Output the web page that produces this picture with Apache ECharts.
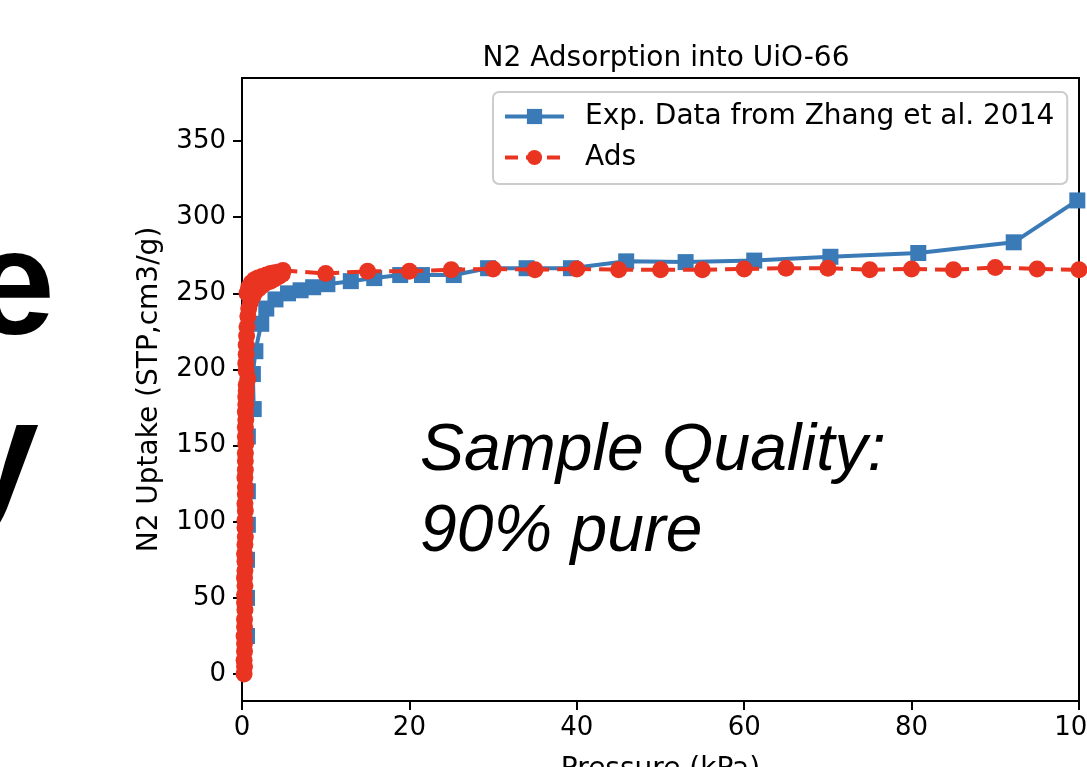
<!DOCTYPE html>
<html>
<head>
<meta charset="utf-8">
<script src="https://cdn.jsdelivr.net/npm/echarts@6/dist/echarts.min.js"></script>
<style>
html,body{margin:0;padding:0;background:#fff;}
#chart{width:1087px;height:767px;}
</style>
</head>
<body>
<div id="chart"></div>
<script>
// ---- data ----
const chartTitle = 'N2 Adsorption into UiO-66';
const xAxisName = 'Pressure (kPa)';
const yAxisName = 'N2 Uptake (STP,cm3/g)';
const xTicks = [0, 20, 40, 60, 80, 100];
const yTicks = [0, 50, 100, 150, 200, 250, 300, 350];
const seriesNames = ['Exp. Data from Zhang et al. 2014', 'Ads'];

const expPressure = [0.6, 0.6, 0.6, 0.7, 0.7, 0.7, 1.4, 1.3, 1.6, 2.3, 2.9, 4.0, 5.5, 7.0, 8.5, 10.2, 13.0, 15.8, 18.9, 21.5, 25.3, 29.4, 34.0, 39.3, 45.9, 53.0, 61.2, 70.3, 80.8, 92.2, 99.8];
const expUptake   = [25, 50, 75, 98, 120, 156, 174, 197, 212, 230, 240, 246, 250, 252, 254, 256, 258, 260, 262, 262, 262, 266.5, 266.5, 266.5, 271, 270.5, 271.5, 274, 276.5, 283.5, 311];

const adsPressure = [0.25, 0.3, 0.25, 0.3, 0.3, 0.25, 0.3, 0.3, 0.35, 0.3, 0.3, 0.35, 0.3, 0.35, 0.35, 0.3, 0.35, 0.4, 0.35, 0.35, 0.4, 0.35, 0.4, 0.4, 0.35, 0.4, 0.4, 0.4, 0.45, 0.4, 0.4, 0.45, 0.4, 0.45, 0.45, 0.5, 0.5, 0.7, 0.5, 0.45, 0.5, 0.5, 0.55, 0.6, 0.7, 0.8, 1.0, 1.3, 1.6, 2.0, 2.4, 2.9, 3.4, 3.9, 4.4, 4.8, 0.6, 0.8, 1.1, 1.5, 1.9, 2.4, 2.9, 3.4, 3.9, 4.4, 4.9, 10, 15, 20, 25, 30, 35, 40, 45, 50, 55, 60, 65, 70, 75, 80, 85, 90, 95, 100];
const adsUptake   = [0, 5, 9, 15, 20, 25, 31, 36, 42, 47, 52, 58, 63, 68, 74, 79, 85, 90, 96, 101, 107, 112, 118, 123, 129, 134, 140, 145, 151, 156, 162, 167, 172, 177, 182, 186, 190, 194, 199, 204, 210, 216, 222, 228, 235, 240, 244, 248, 251, 253, 255, 257, 258, 259.5, 261, 262.5, 250, 254, 257, 259, 260, 261, 262, 263, 263.5, 264, 265, 263, 264.5, 264.5, 265.5, 266, 265.5, 266, 265.5, 265.5, 265.5, 266, 266.5, 266.5, 265.5, 266, 265.5, 267, 266, 265.5];

const bigLetters = ['e', 'y'];
const noteLines = ['Sample Quality:', '90% pure'];

// ---- chart ----
const blue = '#3a7ab6';
const red = '#ea3422';
const chart = echarts.init(document.getElementById('chart'), null, {renderer: 'canvas'});

const expData = expPressure.map((p, i) => [p, expUptake[i]]);
const adsData = adsPressure.map((p, i) => [p, adsUptake[i]]);
const font = 'DejaVu Sans';

chart.setOption({
  animation: false,
  backgroundColor: '#fff',
  title: {
    text: chartTitle,
    left: 661, top: 40, textAlign: 'center',
    textStyle: {fontFamily: font, fontSize: 28, fontWeight: 'normal', color: '#000'}
  },
  grid: {left: 242, right: 8, top: 78, bottom: 66, outerBoundsMode: 'none', containLabel: false,
         show: true, borderColor: '#000', borderWidth: 2, backgroundColor: 'transparent'},
  legend: {
    orient: 'vertical', left: 493, top: 92,
    padding: [9, 13, 11, 10], itemGap: 10,
    itemWidth: 59, itemHeight: 19,
    backgroundColor: 'rgba(255,255,255,0.85)', borderColor: '#cccccc', borderWidth: 2, borderRadius: 6,
    lineStyle: {width: 4},
    textStyle: {fontFamily: font, fontSize: 28, color: '#000', padding: [0, 0, 0, 16], lineHeight: 31},
    data: seriesNames
  },
  xAxis: {
    type: 'value', min: 0, max: 100, interval: 20,
    name: xAxisName, nameLocation: 'middle', nameGap: 55,
    nameTextStyle: {fontFamily: font, fontSize: 28, color: '#000'},
    axisLine: {show: true, onZero: false, lineStyle: {color: '#000', width: 2}},
    axisTick: {show: true, length: 9, lineStyle: {color: '#000', width: 2}, customValues: xTicks},
    axisLabel: {fontFamily: font, fontSize: 26, color: '#000', margin: 14, showMaxLabel: true, hideOverlap: false, customValues: xTicks},
    splitLine: {show: false}
  },
  yAxis: {
    type: 'value', min: -17.7, max: 391.4,
    name: yAxisName, nameLocation: 'middle', nameGap: 78, nameRotate: 90,
    nameTextStyle: {fontFamily: font, fontSize: 28, color: '#000'},
    axisLine: {show: true, onZero: false, lineStyle: {color: '#000', width: 2}},
    axisTick: {show: true, length: 9, lineStyle: {color: '#000', width: 2}, customValues: yTicks},
    axisLabel: {fontFamily: font, fontSize: 26, color: '#000', margin: 16, customValues: yTicks},
    splitLine: {show: false}
  },
  series: [
    {
      name: seriesNames[0], type: 'line', data: expData, clip: true,
      symbol: 'rect', symbolSize: 16, showAllSymbol: true,
      lineStyle: {color: blue, width: 4},
      itemStyle: {color: blue, borderWidth: 0},
      z: 2
    },
    {
      name: seriesNames[1], type: 'line', data: adsData, clip: true,
      symbol: 'circle', symbolSize: 17, showAllSymbol: true,
      lineStyle: {color: red, width: 4, type: [13, 8]},
      itemStyle: {color: red, borderWidth: 0},
      z: 3
    }
  ],
  graphic: [
    {type: 'text', x: 55, y: 293, z: 10, style: {text: bigLetters[0], font: 'bold 150px "Liberation Sans"', fill: '#000', align: 'right', verticalAlign: 'middle'}},
    {type: 'text', x: 39, y: 464, z: 10, style: {text: bigLetters[1], font: 'bold 150px "Liberation Sans"', fill: '#000', align: 'right', verticalAlign: 'middle'}},
    {type: 'text', x: 420, y: 452, z: 10, style: {text: noteLines[0], font: 'italic 66px "Liberation Sans"', fill: '#000', align: 'left', verticalAlign: 'middle'}},
    {type: 'text', x: 420, y: 533, z: 10, style: {text: noteLines[1], font: 'italic 66px "Liberation Sans"', fill: '#000', align: 'left', verticalAlign: 'middle'}}
  ]
});
</script>
</body>
</html>
